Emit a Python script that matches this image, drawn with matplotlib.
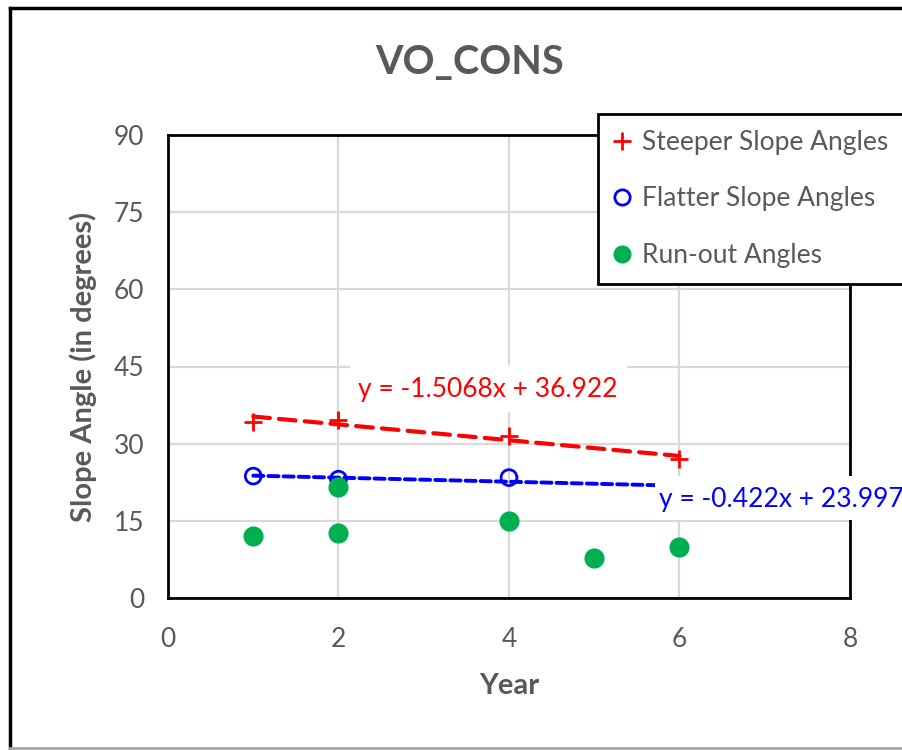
import numpy as np
import matplotlib
matplotlib.use("Agg")
import matplotlib.pyplot as plt
from matplotlib.lines import Line2D
from matplotlib.patches import Rectangle

plt.rcParams['font.family'] = ['Lato', 'DejaVu Sans']

# ---- data ----
steep_x = [1, 2, 4, 6]
steep_y = [34.3, 34.6, 31.4, 27.0]
flat_x = [1, 2, 4, 6]
flat_y = [23.7, 23.1, 23.4, 21.4]
run_x = [1, 2, 2, 4, 5, 6]
run_y = [12.0, 12.6, 21.5, 15.0, 7.7, 10.0]
steep_eq = "y = -1.5068x + 36.922"
flat_eq = "y = -0.422x + 23.997"
title = "VO_CONS"
xlabel = "Year"
ylabel = "Slope Angle (in degrees)"
xticks = [0, 2, 4, 6, 8]
yticks = [0, 15, 30, 45, 60, 75, 90]

GRAY = '#595959'
RED = '#ff0000'
BLUE = '#0000ff'
GREEN = '#00b050'

fig = plt.figure(figsize=(9.03, 7.5), dpi=100)
W, H = 903, 750


def fx(px):
    return px / W


def fy(py):
    return 1 - py / H


ax = fig.add_axes([fx(168), fy(598), (850 - 168) / W, (598 - 135) / H])

ax.set_xlim(0, 8)
ax.set_ylim(0, 90)
ax.set_xticks(xticks)
ax.set_yticks(yticks)
ax.grid(True, color='#d9d9d9', lw=1.6, zorder=0)
ax.set_axisbelow(True)
for s in ax.spines.values():
    s.set_color('black')
    s.set_linewidth(2)
ax.tick_params(length=0, labelsize=19, labelcolor=GRAY)
ax.tick_params(axis='x', pad=21)
ax.tick_params(axis='y', pad=17)

# trendlines
for xs, ys, col, dash, lw in [(steep_x, steep_y, RED, (4, 2.2), 3.0),
                              (flat_x, flat_y, BLUE, (2.6, 1.3), 2.8)]:
    m, b = np.polyfit(xs, ys, 1)
    tx = np.array([min(xs), max(xs)])
    ax.plot(tx, m * tx + b, color=col, lw=lw, dashes=dash, zorder=3,
            dash_capstyle='round')

ax.scatter(steep_x, steep_y, marker='+', s=170, color=RED, linewidths=2, zorder=4)
ax.scatter(flat_x, flat_y, marker='o', s=130, facecolors='none', edgecolors=BLUE,
           linewidths=2, zorder=4)
ax.scatter(run_x, run_y, marker='o', s=210, color=GREEN, linewidths=0, zorder=4)

# trendline label boxes (white, covering grid/lines beneath)
fig.add_artist(Rectangle((fx(350), fy(412)), (627 - 350) / W, (412 - 365) / H,
                         transform=fig.transFigure, facecolor='white',
                         edgecolor='none', zorder=5))
fig.add_artist(Rectangle((fx(655), fy(520)), (910 - 655) / W, (520 - 476) / H,
                         transform=fig.transFigure, facecolor='white',
                         edgecolor='none', zorder=5))
fig.text(fx(488), fy(389), steep_eq, color=RED, fontsize=19, ha='center',
         va='center', zorder=6)
fig.text(fx(659), fy(500), flat_eq, color=BLUE, fontsize=19, ha='left',
         va='center', zorder=6)

ax.set_xlabel(xlabel, fontsize=21, fontweight='bold', color=GRAY, labelpad=15)
ax.set_ylabel(ylabel, fontsize=21, fontweight='bold', color=GRAY, labelpad=12)

fig.text(fx(470), fy(63), title, fontsize=28.5, fontweight='bold', color=GRAY,
         ha='center', va='center')

handles = [
    Line2D([], [], marker='+', ls='none', color=RED, markersize=13, mew=2),
    Line2D([], [], marker='o', ls='none', mfc='none', mec=BLUE, markersize=11, mew=2),
    Line2D([], [], marker='o', ls='none', color=GREEN, markersize=13, mew=0),
]
labels = ["Steeper Slope Angles", "Flatter Slope Angles", "Run-out Angles"]
leg = fig.legend(handles, labels, loc='upper left',
                 bbox_to_anchor=(fx(598), fy(114)), fontsize=19,
                 frameon=True, fancybox=False, edgecolor='black', framealpha=1,
                 labelcolor=GRAY, handlelength=0.6, handletextpad=0.45,
                 labelspacing=1.2, borderpad=0.6, borderaxespad=0)
leg.get_frame().set_linewidth(2)
leg.set_zorder(7)

# outer chart frame
fig.add_artist(Line2D([fx(10), fx(10)], [fy(748), fy(8)], color='black', lw=2.5,
                      transform=fig.transFigure))
fig.add_artist(Line2D([fx(10), 1.0], [fy(8), fy(8)], color='black', lw=2.5,
                      transform=fig.transFigure))
fig.add_artist(Line2D([fx(10), 1.0], [fy(748), fy(748)], color='#a6a6a6', lw=2,
                      transform=fig.transFigure))

fig.savefig("out.png", dpi=100)
